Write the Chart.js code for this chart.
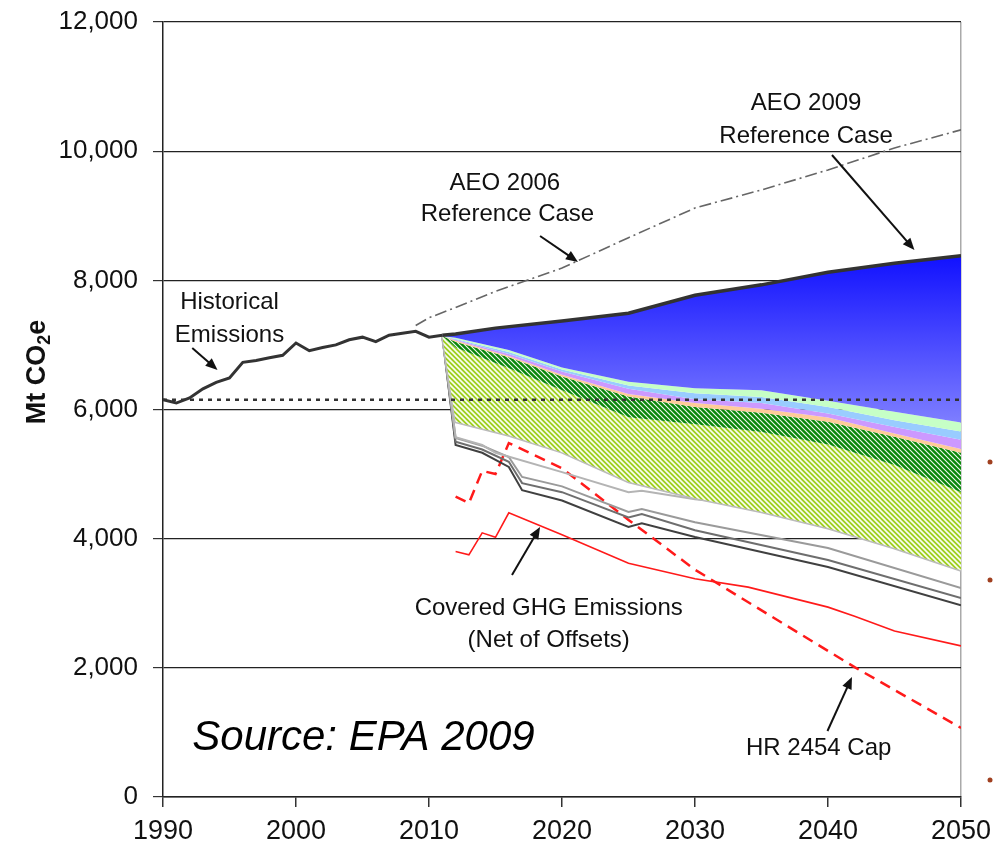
<!DOCTYPE html>
<html>
<head>
<meta charset="utf-8">
<script src="https://cdn.jsdelivr.net/npm/chart.js@4.4.1/dist/chart.umd.min.js"></script>
<style>
  html, body { margin: 0; padding: 0; background: #fff; }
  #wrap { width: 1005px; height: 846px; position: relative; }
</style>
</head>
<body>
<div id="wrap"><canvas id="chart"></canvas></div>
<script>
// historical emissions
const histYears = [1990, 1991, 1992, 1993, 1994, 1995, 1996, 1997, 1998, 1999, 2000,
                   2001, 2002, 2003, 2004, 2005, 2006, 2007, 2008, 2009, 2010, 2011];
const histValues = [6150, 6100, 6180, 6320, 6420, 6490, 6730, 6760, 6800, 6840, 7030,
                    6910, 6960, 7000, 7080, 7120, 7050, 7150, 7180, 7210, 7120, 7150];

// reference cases
const aeo2009Years = [2011, 2012, 2015, 2020, 2025, 2030, 2035, 2040, 2045, 2050];
const aeo2009Values = [7150, 7170, 7260, 7370, 7490, 7770, 7930, 8125, 8265, 8380];
const aeo2006Years = [2009, 2010, 2012, 2015, 2020, 2025, 2030, 2035, 2040, 2045, 2050];
const aeo2006Values = [7300, 7420, 7580, 7830, 8190, 8660, 9120, 9400, 9710, 10050, 10330];

// 1990 level
const baselineYears = [1990, 2050];
const baselineValues = [6150, 6150];

// stacked abatement wedges (upper boundary of each band)
const layerYears   = [2011, 2012, 2016, 2020, 2025, 2030, 2035, 2040, 2045, 2050];
const mintTop      = [7140, 7110, 6920, 6650, 6430, 6330, 6300, 6135, 5965, 5800];
const lightBlueTop = [7140, 7090, 6890, 6620, 6370, 6250, 6195, 6040, 5835, 5660];
const purpleTop    = [7140, 7080, 6860, 6590, 6320, 6160, 6100, 5940, 5730, 5530];
const peachTop     = [7140, 7070, 6830, 6540, 6240, 6100, 6010, 5875, 5630, 5390];
const darkGreenTop = [7140, 7050, 6810, 6510, 6200, 6040, 5950, 5810, 5580, 5330];
const yellowTop    = [7140, 6960, 6640, 6300, 5880, 5770, 5650, 5460, 5140, 4720];
const yellowBottom = [7140, 5810, 5600, 5340, 4880, 4630, 4415, 4165, 3855, 3510];

// covered emission lines
const lineAYears = [2011, 2012, 2014, 2015, 2020, 2025, 2026, 2030, 2031];
const lineAValues = [7140, 5570, 5450, 5330, 5030, 4720, 4740, 4610, 4590];
const coveredYears = [2011, 2012, 2014, 2016, 2017, 2020, 2025, 2026, 2030, 2040, 2050];
const lineBValues = [7140, 5560, 5440, 5265, 4955, 4810, 4415, 4460, 4255, 3855, 3235];
const lineCValues = [7140, 5500, 5380, 5190, 4860, 4720, 4330, 4380, 4130, 3670, 3080];
const lineDValues = [7140, 5450, 5330, 5110, 4750, 4590, 4180, 4240, 4025, 3560, 2970];

// net of offsets and the cap
const netYears = [2012, 2013, 2014, 2015, 2016, 2020, 2025, 2030, 2034, 2040, 2042, 2045, 2050];
const netValues = [3800, 3750, 4090, 4020, 4400, 4060, 3620, 3380, 3250, 2940, 2800, 2570, 2340];
const capYears = [2012, 2013, 2014, 2015, 2016, 2020, 2025, 2030, 2042, 2050];
const capValues = [4650, 4550, 5050, 5000, 5480, 5090, 4290, 3520, 2010, 1070];

const xTicks = [1990, 2000, 2010, 2020, 2030, 2040, 2050];

const pts = (xs, ys) => xs.map((x, i) => ({ x: x, y: ys[i] }));

function hatch(base, size, width) {
    const c = document.createElement('canvas');
    c.width = c.height = size;
    const g = c.getContext('2d');
    g.fillStyle = base;
    g.fillRect(0, 0, size, size);
    g.strokeStyle = 'rgba(255,255,255,0.95)';
    g.lineWidth = width;
    g.beginPath();
    g.moveTo(-1, -1); g.lineTo(size + 1, size + 1);
    g.moveTo(-1, size - 1); g.lineTo(1, size + 1);
    g.moveTo(size - 1, -1); g.lineTo(size + 1, 1);
    g.stroke();
    return g.createPattern(c, 'repeat');
}

const darkGreenFill = hatch('#0a870a', 5, 1.1);
const yellowFill = hatch('#9fd020', 5, 1.6);

const blueFill = (context) => {
    const chart = context.chart;
    if (!chart.chartArea) return '#4a4aff';
    const y = chart.scales.y;
    const g = chart.ctx.createLinearGradient(0, y.getPixelForValue(8400), 0, y.getPixelForValue(5700));
    g.addColorStop(0, '#1010ff');
    g.addColorStop(1, '#8282ff');
    return g;
};

const line = (data, color, width, extra) => Object.assign({
    data: data,
    borderColor: color,
    borderWidth: width,
    pointRadius: 0,
    fill: false,
    tension: 0
}, extra || {});

const band = (data, bg) => ({
    data: data,
    borderColor: 'rgba(0,0,0,0)',
    borderWidth: 0,
    backgroundColor: bg,
    pointRadius: 0,
    fill: '+1',
    tension: 0
});

const notes = {
    id: 'notes',
    afterDraw(chart) {
        const { ctx, scales: { x, y } } = chart;
        const px = (yr, v) => [x.getPixelForValue(yr), y.getPixelForValue(v)];

        ctx.save();
        ctx.fillStyle = '#111';
        ctx.textAlign = 'center';
        ctx.textBaseline = 'middle';
        ctx.font = '24px "Liberation Sans", Arial, sans-serif';
        const text = (s, yr, v) => { const p = px(yr, v); ctx.fillText(s, p[0], p[1]); };
        text('Historical', 1995.0, 7665);
        text('Emissions', 1995.0, 7154);
        text('AEO 2006', 2015.7, 9508);
        text('Reference Case', 2015.9, 9028);
        text('AEO 2009', 2038.35, 10746);
        text('Reference Case', 2038.35, 10235);
        text('Covered GHG Emissions', 2019.0, 2927);
        text('(Net of Offsets)', 2019.0, 2431);
        text('HR 2454 Cap', 2039.3, 759);

        const arrow = (y0, v0, y1, v1) => {
            const a = px(y0, v0), b = px(y1, v1);
            const ang = Math.atan2(b[1] - a[1], b[0] - a[0]);
            ctx.strokeStyle = '#111';
            ctx.lineWidth = 2;
            ctx.beginPath();
            ctx.moveTo(a[0], a[1]);
            ctx.lineTo(b[0] - 8 * Math.cos(ang), b[1] - 8 * Math.sin(ang));
            ctx.stroke();
            ctx.beginPath();
            ctx.moveTo(b[0], b[1]);
            ctx.lineTo(b[0] - 12 * Math.cos(ang) + 5 * Math.sin(ang), b[1] - 12 * Math.sin(ang) - 5 * Math.cos(ang));
            ctx.lineTo(b[0] - 12 * Math.cos(ang) - 5 * Math.sin(ang), b[1] - 12 * Math.sin(ang) + 5 * Math.cos(ang));
            ctx.closePath();
            ctx.fill();
        };
        arrow(1992.2, 6953, 1994.1, 6612);
        arrow(2018.35, 8687, 2021.2, 8285);
        arrow(2040.3, 9941, 2046.5, 8470);
        arrow(2016.24, 3438, 2018.35, 4181);
        arrow(2039.96, 1022, 2041.8, 1858);

        ctx.fillStyle = '#000';
        ctx.textAlign = 'left';
        ctx.font = 'italic 42px "Liberation Sans", Arial, sans-serif';
        const s = px(1992.2, 914);
        ctx.fillText('Source: EPA 2009', s[0], s[1]);

        // y axis title with subscript
        ctx.translate(38, 372);
        ctx.rotate(-Math.PI / 2);
        ctx.fillStyle = '#111';
        const big = 'bold 27px "Liberation Sans", Arial, sans-serif';
        const small = 'bold 18px "Liberation Sans", Arial, sans-serif';
        ctx.font = big;
        const w1 = ctx.measureText('Mt CO').width;
        const w3 = ctx.measureText('e').width;
        ctx.font = small;
        const w2 = ctx.measureText('2').width;
        let cx = -(w1 + w2 + w3) / 2;
        ctx.textAlign = 'left';
        ctx.font = big;
        ctx.fillText('Mt CO', cx, 0);
        ctx.font = small;
        ctx.fillText('2', cx + w1, 7);
        ctx.font = big;
        ctx.fillText('e', cx + w1 + w2, 0);
        ctx.restore();

        // stray bullets at the right edge
        ctx.save();
        ctx.fillStyle = '#a04020';
        [5186, 3359, 263].forEach(v => {
            ctx.beginPath();
            ctx.arc(x.right + 29, y.getPixelForValue(v), 2.5, 0, Math.PI * 2);
            ctx.fill();
        });
        ctx.restore();
    }
};

Chart.defaults.font.family = '"Liberation Sans", Arial, sans-serif';
Chart.defaults.color = '#111';

new Chart(document.getElementById('chart'), {
    type: 'line',
    data: {
        datasets: [
            line(pts(histYears, histValues), '#333', 3),
            line(pts(aeo2006Years, aeo2006Values), '#666', 1.6, { borderDash: [12, 4, 2, 4] }),
            line(pts(baselineYears, baselineValues), '#333', 2.5, { borderDash: [4, 5] }),
            line(pts(aeo2009Years, aeo2009Values), '#333', 3.5, { fill: '+1', backgroundColor: blueFill }),
            band(pts(layerYears, mintTop), '#c6ffc6'),
            band(pts(layerYears, lightBlueTop), '#99ccff'),
            band(pts(layerYears, purpleTop), '#cc99ff'),
            band(pts(layerYears, peachTop), '#ffcc99'),
            band(pts(layerYears, darkGreenTop), darkGreenFill),
            band(pts(layerYears, yellowTop), yellowFill),
            line(pts(layerYears, yellowBottom), '#bbbbbb', 3),
            line(pts(lineAYears, lineAValues), '#b4b4b4', 2),
            line(pts(coveredYears, lineBValues), '#9a9a9a', 2),
            line(pts(coveredYears, lineCValues), '#6e6e6e', 2),
            line(pts(coveredYears, lineDValues), '#404040', 2),
            line(pts(netYears, netValues), '#ff1a1a', 1.6),
            line(pts(capYears, capValues), '#ff1a1a', 2.5, { borderDash: [11, 7] })
        ]
    },
    options: {
        responsive: true,
        maintainAspectRatio: false,
        animation: false,
        layout: { padding: { left: 0, right: 44, top: 22, bottom: 0 } },
        plugins: {
            legend: { display: false },
            tooltip: { enabled: false }
        },
        scales: {
            x: {
                type: 'linear',
                min: 1990,
                max: 2050,
                afterBuildTicks: (scale) => { scale.ticks = xTicks.map(v => ({ value: v })); },
                afterFit: (scale) => { scale.height = 49; scale.paddingLeft = 0; scale.paddingRight = 0; },
                ticks: {
                    callback: (v) => String(v),
                    font: { size: 27 },
                    padding: 8,
                    maxRotation: 0,
                    autoSkip: false
                },
                grid: {
                    color: (ctx) => (ctx.tick && ctx.tick.value === 2050 ? '#aaaaaa' : 'rgba(0,0,0,0)'),
                    tickColor: '#333',
                    tickLength: 10,
                    lineWidth: 1.5
                },
                border: { color: '#222', width: 1.5 }
            },
            y: {
                min: 0,
                max: 12000,
                afterFit: (scale) => { scale.width = 163; scale.paddingTop = 0; scale.paddingBottom = 0; },
                ticks: {
                    stepSize: 2000,
                    callback: (v) => v.toLocaleString('en-US'),
                    font: { size: 26 },
                    padding: 15
                },
                grid: {
                    color: '#222',
                    lineWidth: 1.2,
                    tickColor: '#333',
                    tickLength: 10
                },
                border: { color: '#222', width: 1.5 }
            }
        }
    },
    plugins: [notes]
});
</script>
</body>
</html>
